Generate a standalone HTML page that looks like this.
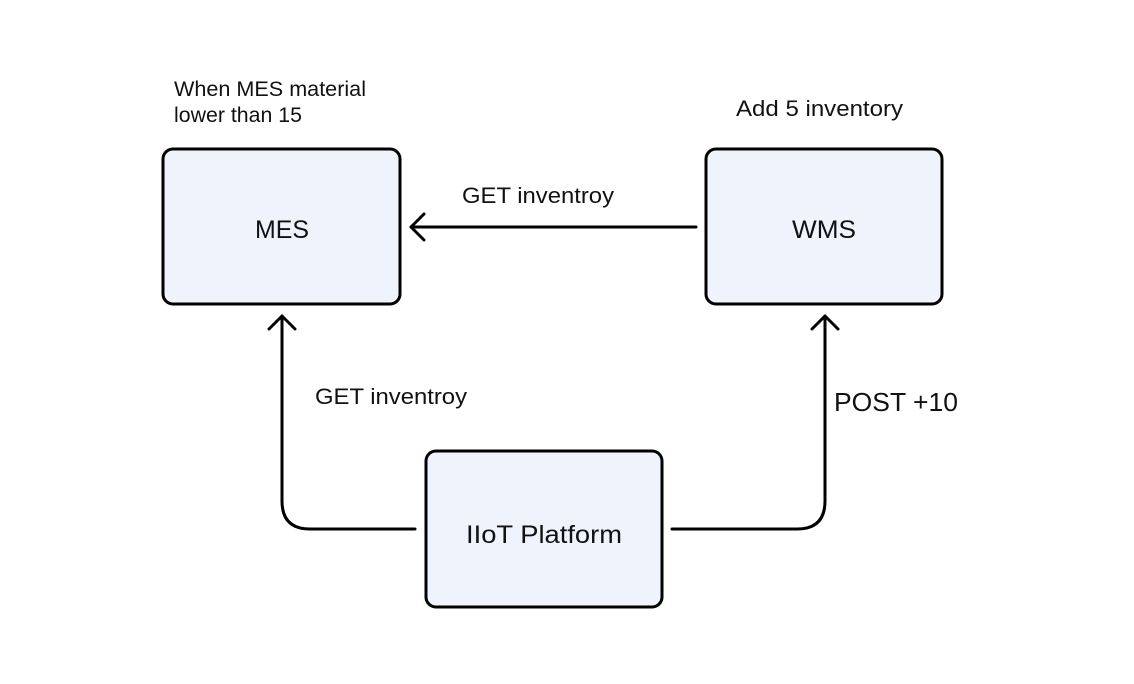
<!DOCTYPE html>
<html><head><style>
html,body{margin:0;padding:0;background:#fff;}
svg{display:block}
text{font-family:"Liberation Sans",sans-serif;fill:#111;}
</style></head><body>
<svg width="1134" height="684" viewBox="0 0 1134 684" xmlns="http://www.w3.org/2000/svg">
<rect width="1134" height="684" fill="#fff"/>
<g fill="#eff3fc" stroke="#000" stroke-width="3">
<rect x="163" y="149" width="237" height="155" rx="10"/>
<rect x="706" y="149" width="236" height="155" rx="10"/>
<rect x="426" y="451" width="236" height="156" rx="10"/>
</g>
<text x="255" y="238" font-size="25" textLength="54" lengthAdjust="spacingAndGlyphs" fill="#222">MES</text>
<text x="792" y="238" font-size="25" textLength="64" lengthAdjust="spacingAndGlyphs" fill="#222">WMS</text>
<text x="466" y="543" font-size="25" textLength="156" lengthAdjust="spacingAndGlyphs" fill="#222">IIoT Platform</text>
<g fill="none" stroke="#000" stroke-width="3" stroke-linecap="round" stroke-linejoin="round">
<path d="M696 227 H411"/>
<path d="M424 214 L411 227 L424 240"/>
<path d="M415 529 H310 Q282 529 282 501 V316"/>
<path d="M269 329 L282 316 L295 329"/>
<path d="M672 529 H797 Q825 529 825 501 V316"/>
<path d="M812 329 L825 316 L838 329"/>
</g>
<text x="174" y="96" font-size="21" textLength="192" lengthAdjust="spacingAndGlyphs">When MES material</text>
<text x="174" y="122" font-size="21" textLength="128" lengthAdjust="spacingAndGlyphs">lower than 15</text>
<text x="736" y="116" font-size="22" textLength="167" lengthAdjust="spacingAndGlyphs">Add 5 inventory</text>
<text x="462" y="203" font-size="22" textLength="152" lengthAdjust="spacingAndGlyphs">GET inventroy</text>
<text x="315" y="404" font-size="22" textLength="152" lengthAdjust="spacingAndGlyphs">GET inventroy</text>
<text x="834" y="411" font-size="26" textLength="124" lengthAdjust="spacingAndGlyphs" fill="#222">POST +10</text>
</svg>
</body></html>
